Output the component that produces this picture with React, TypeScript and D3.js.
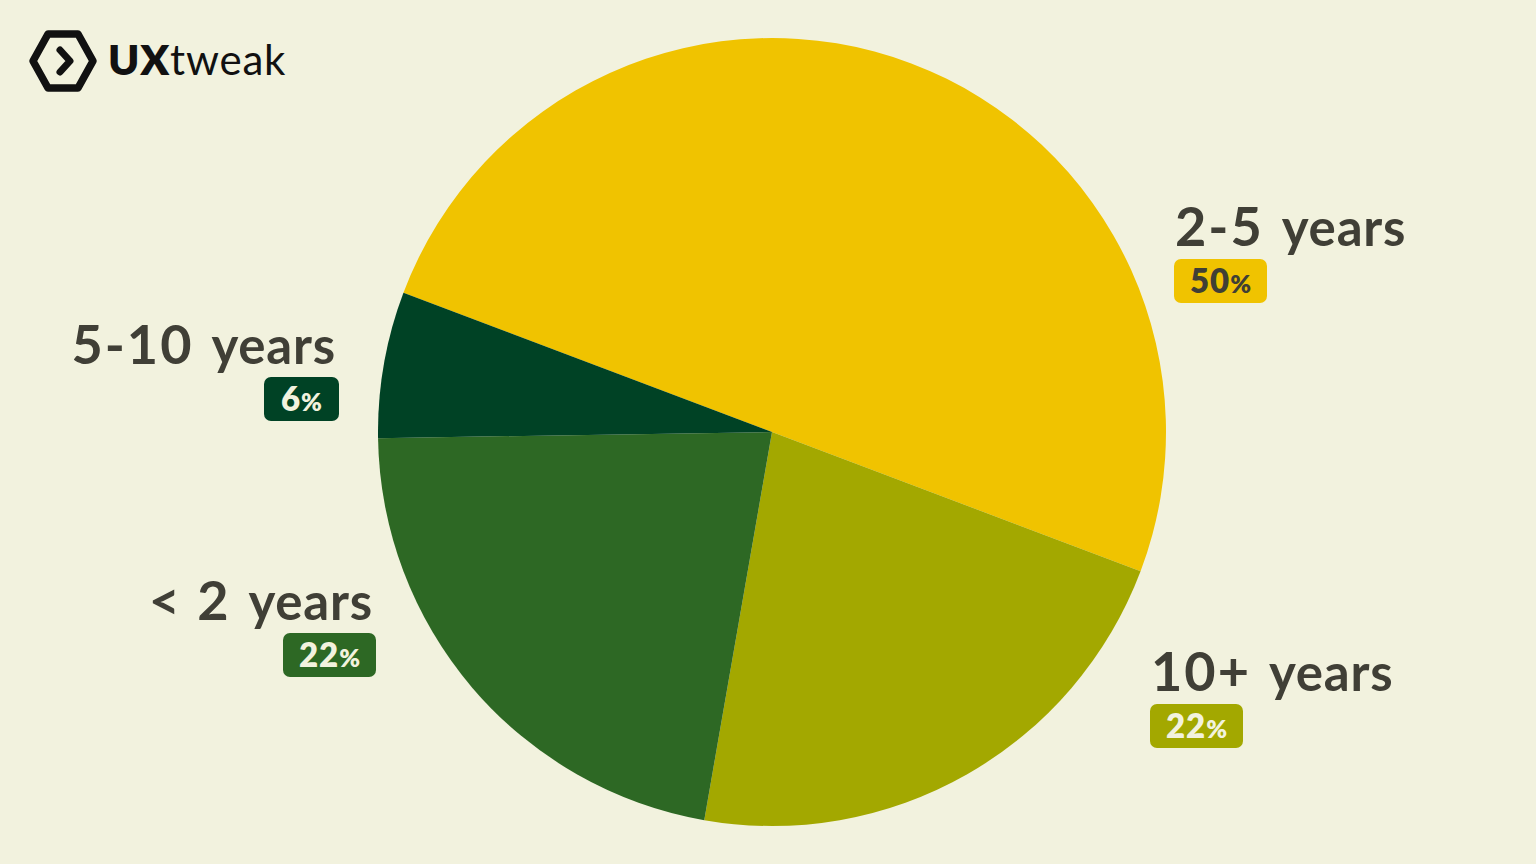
import React from "react";
import * as d3 from "d3";

const categories = ["2-5 years", "10+ years", "< 2 years", "5-10 years"];
const numberParts = ["2-5", "10+", "< 2", "5-10"];
const values = [50, 22, 22, 6];
const colors = ["#F0C300", "#A3A800", "#2D6824", "#004225"];
const badgeText = ["#3F3F35", "#F2F2DE", "#F2F2DE", "#F2F2DE"];

const W = 1536;
const H = 864;
const BG = "#F2F2DE";
const TXT = "#403F36";
const FONT = "Lato, 'Open Sans', sans-serif";

// label anchor layout (per category)
const labelPos = [
  { x: 1175, y: 246, anchor: "start" },
  { x: 1151, y: 691, anchor: "start" },
  { x: 373, y: 620, anchor: "end" },
  { x: 336, y: 364, anchor: "end" },
];

function Badge({ x, y, anchor, color, tColor, value }) {
  const w = String(value).length > 1 ? 93 : 75;
  const bx = anchor === "start" ? x - 1 : x + 3 - w;
  return (
    <g>
      <rect x={bx} y={y + 13} width={w} height={44} rx={7} fill={color} />
      <text
        x={bx + w / 2}
        y={y + 47}
        textAnchor="middle"
        fill={tColor}
        fontFamily={FONT}
        fontWeight={800}
      >
        <tspan fontSize={33} letterSpacing={1}>{value}</tspan>
        <tspan fontSize={25}>%</tspan>
      </text>
    </g>
  );
}

function Logo() {
  const cx = 63, cy = 61;
  const rx = 30, ry = 27;
  const pts = [
    [cx - rx, cy],
    [cx - rx / 2, cy - ry],
    [cx + rx / 2, cy - ry],
    [cx + rx, cy],
    [cx + rx / 2, cy + ry],
    [cx - rx / 2, cy + ry],
  ];
  const hex = d3.line().curve(d3.curveLinearClosed)(pts as any);
  return (
    <g>
      <path d={hex || ""} fill="none" stroke="#111" strokeWidth={7.5} strokeLinejoin="round" />
      <path
        d={`M${cx - 3},${cy - 11} L${cx + 7},${cy} L${cx - 3},${cy + 11}`}
        fill="none"
        stroke="#111"
        strokeWidth={7}
        strokeLinecap="round"
        strokeLinejoin="round"
      />
      <text x={108} y={75} fontFamily={FONT} fontSize={42} fill="#111" letterSpacing={0.8}>
        <tspan fontWeight={800}>UX</tspan>
        <tspan fontWeight={400}>tweak</tspan>
      </text>
    </g>
  );
}

export default function App() {
  const cx = 772, cy = 432, r = 394;
  const start = (-69.3 * Math.PI) / 180;
  const pie = d3
    .pie<number>()
    .sort(null)
    .startAngle(start)
    .endAngle(start + 2 * Math.PI)(values);
  const arc = d3.arc<d3.PieArcDatum<number>>().innerRadius(0).outerRadius(r);

  return (
    <svg width={W} height={H} style={{ position: "absolute", left: 0, top: 0, background: BG }}>
      <rect width={W} height={H} fill={BG} />
      <Logo />
      <g transform={`translate(${cx},${cy})`}>
        {pie.map((d, i) => (
          <path key={i} d={arc(d) || ""} fill={colors[i]} />
        ))}
      </g>
      {categories.map((c, i) => {
        const p = labelPos[i];
        return (
          <g key={c}>
            <text
              x={p.x}
              y={p.y}
              textAnchor={p.anchor}
              fill={TXT}
              fontFamily={FONT}
              fontWeight={700}
            >
              <tspan fontSize={54} letterSpacing={2}>{numberParts[i]}</tspan>
              <tspan fontSize={51} letterSpacing={0.8} dx={6}>{" years"}</tspan>
            </text>
            <Badge
              x={p.x}
              y={p.y}
              anchor={p.anchor}
              color={colors[i]}
              tColor={badgeText[i]}
              value={values[i]}
            />
          </g>
        );
      })}
    </svg>
  );
}
